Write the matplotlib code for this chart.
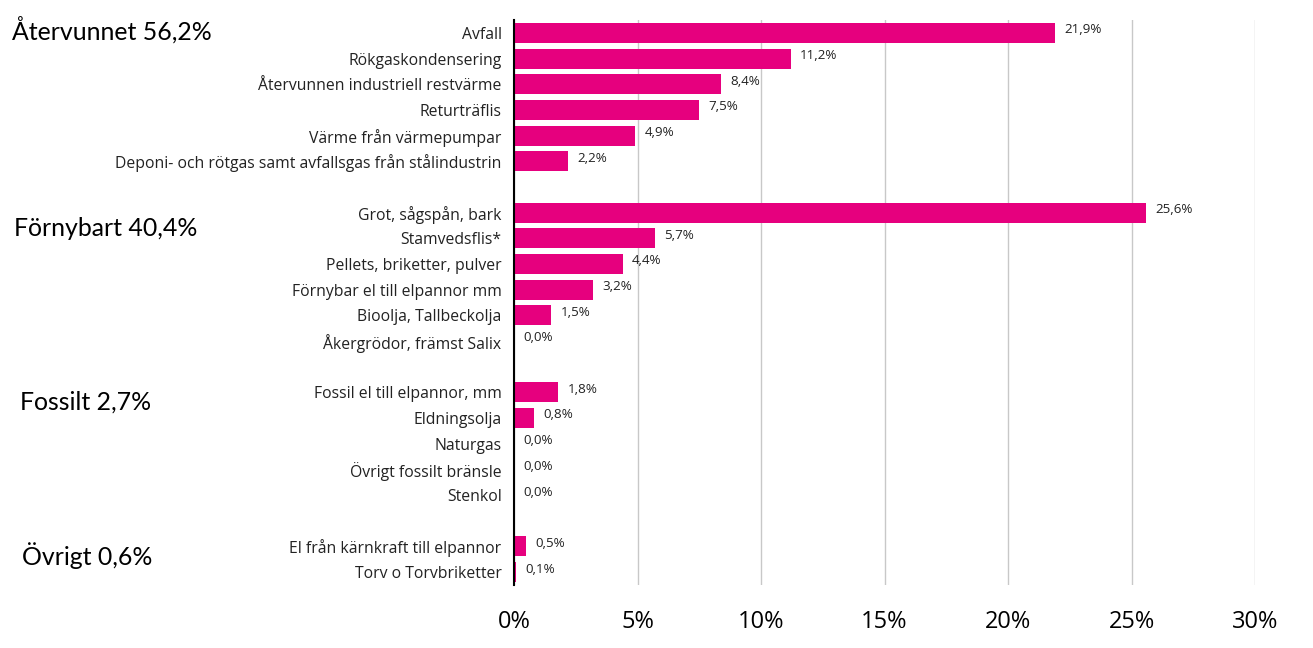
import matplotlib
matplotlib.use("Agg")
import matplotlib.pyplot as plt
from matplotlib.ticker import FuncFormatter

# categories per group (top to bottom) and their shares in percent
aterv_labels = ["Avfall", "Rökgaskondensering", "Återvunnen industriell restvärme",
                "Returträflis", "Värme från värmepumpar",
                "Deponi- och rötgas samt avfallsgas från stålindustrin"]
aterv_values = [21.9, 11.2, 8.4, 7.5, 4.9, 2.2]

fornyb_labels = ["Grot, sågspån, bark", "Stamvedsflis*", "Pellets, briketter, pulver",
                 "Förnybar el till elpannor mm", "Bioolja, Tallbeckolja",
                 "Åkergrödor, främst Salix"]
fornyb_values = [25.6, 5.7, 4.4, 3.2, 1.5, 0.0]

fossil_labels = ["Fossil el till elpannor, mm", "Eldningsolja", "Naturgas",
                 "Övrigt fossilt bränsle", "Stenkol"]
fossil_values = [1.8, 0.8, 0.0, 0.0, 0.0]

ovrigt_labels = ["El från kärnkraft till elpannor", "Torv o Torvbriketter"]
ovrigt_values = [0.5, 0.1]

group_titles = ["Återvunnet 56,2%", "Förnybart 40,4%", "Fossilt 2,7%", "Övrigt 0,6%"]
groups = [(aterv_labels, aterv_values), (fornyb_labels, fornyb_values),
          (fossil_labels, fossil_values), (ovrigt_labels, ovrigt_values)]

bar_color = "#E6007E"

plt.rcParams['font.family'] = ['Open Sans', 'DejaVu Sans']

fig = plt.figure(figsize=(13.13, 6.48), dpi=100)
ax = fig.add_axes([514 / 1313, 1 - 585 / 648, (1255 - 514) / 1313, (585 - 20) / 648])

# lay out rows, one empty slot between groups
positions, labels, values = [], [], []
slot = 0
for labs, vals in groups:
    for lab, val in zip(labs, vals):
        positions.append(slot)
        labels.append(lab)
        values.append(val)
        slot += 1
    slot += 1
n_slots = slot - 1

ax.barh(positions, values, height=0.78, color=bar_color, zorder=3)
for p, v in zip(positions, values):
    ax.text(v + 0.38, p - 0.12, f"{v:.1f}".replace(".", ",") + "%",
            fontsize=9.6, va="center", ha="left", color="#222222", zorder=4)

ax.set_ylim(n_slots - 0.5, -0.5)
ax.set_xlim(0, 30)
ax.set_yticks(positions)
ax.set_yticklabels(labels, fontsize=11.3, color="#222222")
ax.set_xticks(range(0, 31, 5))
ax.xaxis.set_major_formatter(FuncFormatter(lambda x, _: f"{x:.0f}%"))
ax.tick_params(axis="x", labelsize=17, length=0, pad=18)
ax.tick_params(axis="y", length=0, pad=9)

ax.grid(axis="x", color="#C8C8C8", linewidth=1, zorder=0)
for s in ["top", "right", "bottom"]:
    ax.spines[s].set_visible(False)
ax.spines["left"].set_color("black")
ax.spines["left"].set_linewidth(1.5)
ax.spines["left"].set_zorder(5)

# group titles on the far left, placed by pixel row as in the reference
title_x = [12, 14, 20, 22]
title_y = [30, 228, 402, 556]
for title, tx, ty in zip(group_titles, title_x, title_y):
    fig.text(tx / 1313, 1 - ty / 648, title, fontsize=17.9, family=['Lato', 'DejaVu Sans'],
             va="center", ha="left", color="black")

fig.savefig("out.png", dpi=100)
